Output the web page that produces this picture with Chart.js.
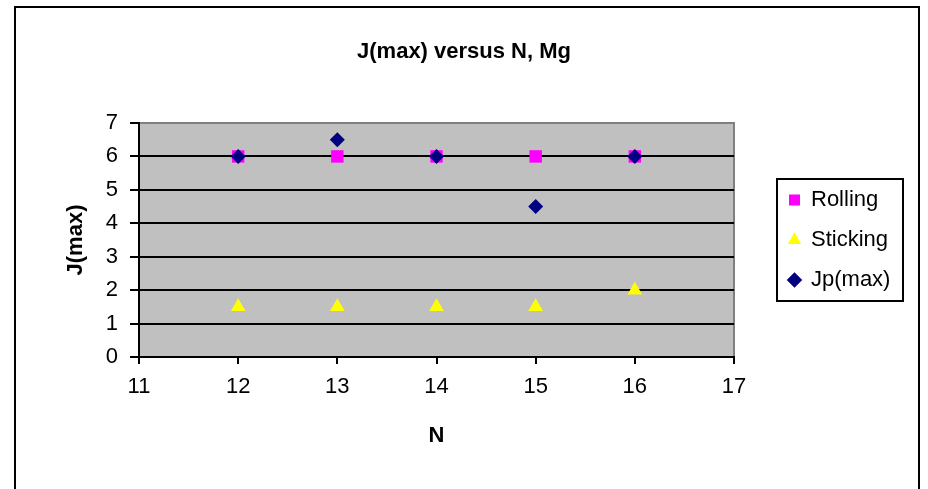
<!DOCTYPE html>
<html>
<head>
<meta charset="utf-8">
<script src="https://cdn.jsdelivr.net/npm/chart.js@4/dist/chart.umd.min.js"></script>
<style>
  html, body { margin: 0; padding: 0; background: #fff; }
  #wrap { width: 928px; height: 489px; }
</style>
</head>
<body>
<div id="wrap"><canvas id="c" width="928" height="489"></canvas></div>
<script>
// ---- data ----
const nValues  = [12, 13, 14, 15, 16];
const rolling  = [6, 6, 6, 6, 6];
const sticking = [1.5, 1.5, 1.5, 1.5, 2];
const jpMax    = [6, 6.5, 6, 4.5, 6];
const seriesNames = ['Rolling', 'Sticking', 'Jp(max)'];
const xRange = [11, 17];
const yRange = [0, 7];
const chartTitle = 'J(max) versus N, Mg';
const xTitle = 'N';
const yTitle = 'J(max)';

const FONT = "'Liberation Sans', Arial, Helvetica, sans-serif";
const toPts = (ys) => nValues.map((x, i) => ({ x: x, y: ys[i] }));

// layout targets (pixels)
const PLOT = { left: 139, right: 734, top: 123, bottom: 357 };
const LEG = { boxLeft: 777, boxTop: 179, boxRight: 903, boxBottom: 301 };

const framePlugin = {
  id: 'frame',
  beforeDraw(chart) {
    const ctx = chart.ctx;
    ctx.save();
    ctx.fillStyle = '#ffffff';
    ctx.fillRect(0, 0, chart.width, chart.height);
    ctx.strokeStyle = '#000000';
    ctx.lineWidth = 2;
    ctx.strokeRect(15, 7, 904, 500);
    const a = chart.chartArea;
    ctx.fillStyle = '#C0C0C0';
    ctx.fillRect(a.left, a.top, a.right - a.left, a.bottom - a.top);
    ctx.strokeStyle = '#808080';
    ctx.lineWidth = 2;
    ctx.beginPath();
    ctx.moveTo(a.left, a.top);
    ctx.lineTo(a.right, a.top);
    ctx.lineTo(a.right, a.bottom);
    ctx.stroke();
    ctx.restore();
  },
  afterDraw(chart) {
    const ctx = chart.ctx;
    ctx.save();
    ctx.strokeStyle = '#000000';
    ctx.lineWidth = 2;
    ctx.strokeRect(LEG.boxLeft, LEG.boxTop, LEG.boxRight - LEG.boxLeft, LEG.boxBottom - LEG.boxTop);
    ctx.restore();
  }
};

const legendPlace = {
  id: 'legendPlace',
  beforeLayout(chart) {
    const lg = chart.legend;
    if (lg && !lg._patched) {
      const f = lg.fit;
      lg.fit = function () { f.call(this); this.width = 928 - PLOT.right; };
      lg._patched = true;
    }
  },
  afterLayout(chart) {
    const lg = chart.legend;
    if (!lg) return;
    lg.left = 771; lg.right = 925;
    lg.top = 171; lg.bottom = 340;
    lg.width = lg.right - lg.left;
    lg.height = lg.bottom - lg.top;
  }
};

new Chart(document.getElementById('c'), {
  type: 'scatter',
  data: {
    datasets: [
      { label: seriesNames[0], data: toPts(rolling), order: 3, pointStyle: 'rect', pointRadius: 8.8, pointHoverRadius: 8.8,
        backgroundColor: '#FF00FF', borderColor: '#FF00FF', borderWidth: 0 },
      { label: seriesNames[1], data: toPts(sticking), order: 2, pointStyle: 'triangle', pointRadius: 8.5, pointHoverRadius: 8.5,
        backgroundColor: '#FFFF00', borderColor: '#FFFF00', borderWidth: 0 },
      { label: seriesNames[2], data: toPts(jpMax), order: 1, pointStyle: 'rectRot', pointRadius: 7.5, pointHoverRadius: 7.5,
        backgroundColor: '#000080', borderColor: '#000080', borderWidth: 0 }
    ]
  },
  options: {
    responsive: false,
    animation: false,
    devicePixelRatio: 1,
    layout: { padding: { top: 0, left: 0, right: 0, bottom: 0 } },
    plugins: {
      tooltip: { enabled: false },
      title: {
        display: true, text: chartTitle, color: '#000',
        font: { family: FONT, size: 22, weight: 'bold' },
        padding: { top: 39, bottom: 123 - 39 - 26.4 }
      },
      legend: {
        display: true, position: 'right', align: 'start',
        labels: {
          color: '#000', font: { family: FONT, size: 22 },
          usePointStyle: true, boxWidth: 11, boxHeight: 11, padding: 18,
          sort: (a, b) => a.datasetIndex - b.datasetIndex
        }
      }
    },
    scales: {
      x: {
        type: 'linear', min: xRange[0], max: xRange[1],
        ticks: { stepSize: 1, color: '#000', font: { family: FONT, size: 22 }, padding: 10 },
        grid: { drawOnChartArea: false, drawTicks: true, tickLength: 7, color: '#000', lineWidth: 2 },
        border: { display: true, color: '#000', width: 2 },
        title: { display: true, text: xTitle, color: '#000', font: { family: FONT, size: 22, weight: 'bold' },
                 padding: { top: 0, bottom: 40 } },
        afterFit(scale) { scale.height = 489 - PLOT.bottom; }
      },
      y: {
        type: 'linear', min: yRange[0], max: yRange[1],
        ticks: { stepSize: 1, color: '#000', font: { family: FONT, size: 22 }, padding: 12 },
        grid: {
          drawOnChartArea: true, drawTicks: true, tickLength: 9, lineWidth: 2,
          color: (c) => (c.tick && c.tick.value === yRange[1]) ? '#808080' : '#000',
          tickColor: '#000'
        },
        border: { display: true, color: '#000', width: 2 },
        title: { display: true, text: yTitle, color: '#000', font: { family: FONT, size: 22, weight: 'bold' },
                 padding: { top: 63, bottom: 0 } },
        afterFit(scale) { scale.width = PLOT.left; }
      }
    }
  },
  plugins: [framePlugin, legendPlace]
});
</script>
</body>
</html>
